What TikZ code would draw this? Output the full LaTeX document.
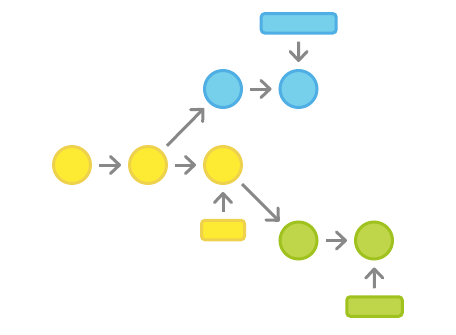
\documentclass[tikz,border=0pt]{standalone}
\usetikzlibrary{arrows.meta}
\definecolor{yfill}{HTML}{FDEA33}
\definecolor{ydraw}{HTML}{EED24E}
\definecolor{bfill}{HTML}{76CFEB}
\definecolor{bdraw}{HTML}{4FAEE4}
\definecolor{gfill}{HTML}{BFD54A}
\definecolor{gdraw}{HTML}{A0C21E}
\definecolor{arr}{HTML}{888888}
\tikzset{
  commit/.style={circle, minimum size=37pt, inner sep=0pt, line width=3pt},
  ref/.style={rectangle, rounded corners=3.5pt, minimum height=19.5pt, inner sep=0pt, line width=3pt},
  ycol/.style={fill=yfill, draw=ydraw},
  bcol/.style={fill=bfill, draw=bdraw},
  gcol/.style={fill=gfill, draw=gdraw},
  link/.style={draw=arr, line width=3pt, shorten <=7pt, shorten >=7pt,
    -{Straight Barb[length=9pt, width=17pt, line cap=round, line join=round]}}
}
\begin{document}
\begin{tikzpicture}[x=1pt, y=-1pt]
\useasboundingbox (0,0) rectangle (456,335);
\node[commit, ycol] (y1) at (72,165) {};
\node[commit, ycol] (y2) at (148,165) {};
\node[commit, ycol] (y3) at (223,165) {};
\node[commit, bcol] (b1) at (223,89) {};
\node[commit, bcol] (b2) at (298.5,89) {};
\node[commit, gcol] (g1) at (298.5,240.5) {};
\node[commit, gcol] (g2) at (374,240.5) {};
\node[ref, bcol, minimum width=75pt] (br) at (298.7,23.3) {};
\node[ref, ycol, minimum width=43pt] (yr) at (223,230) {};
\node[ref, gcol, minimum width=55.5pt] (gr) at (374.5,306.5) {};
\draw[link] (y1) -- (y2);
\draw[link] (y2) -- (y3);
\draw[link] (y2) -- (b1);
\draw[link] (b1) -- (b2);
\draw[link] (y3) -- (g1);
\draw[link] (g1) -- (g2);
\draw[link] (br) -- (b2);
\draw[link] (yr) -- (y3);
\draw[link] (gr) -- (g2);
\end{tikzpicture}
\end{document}
